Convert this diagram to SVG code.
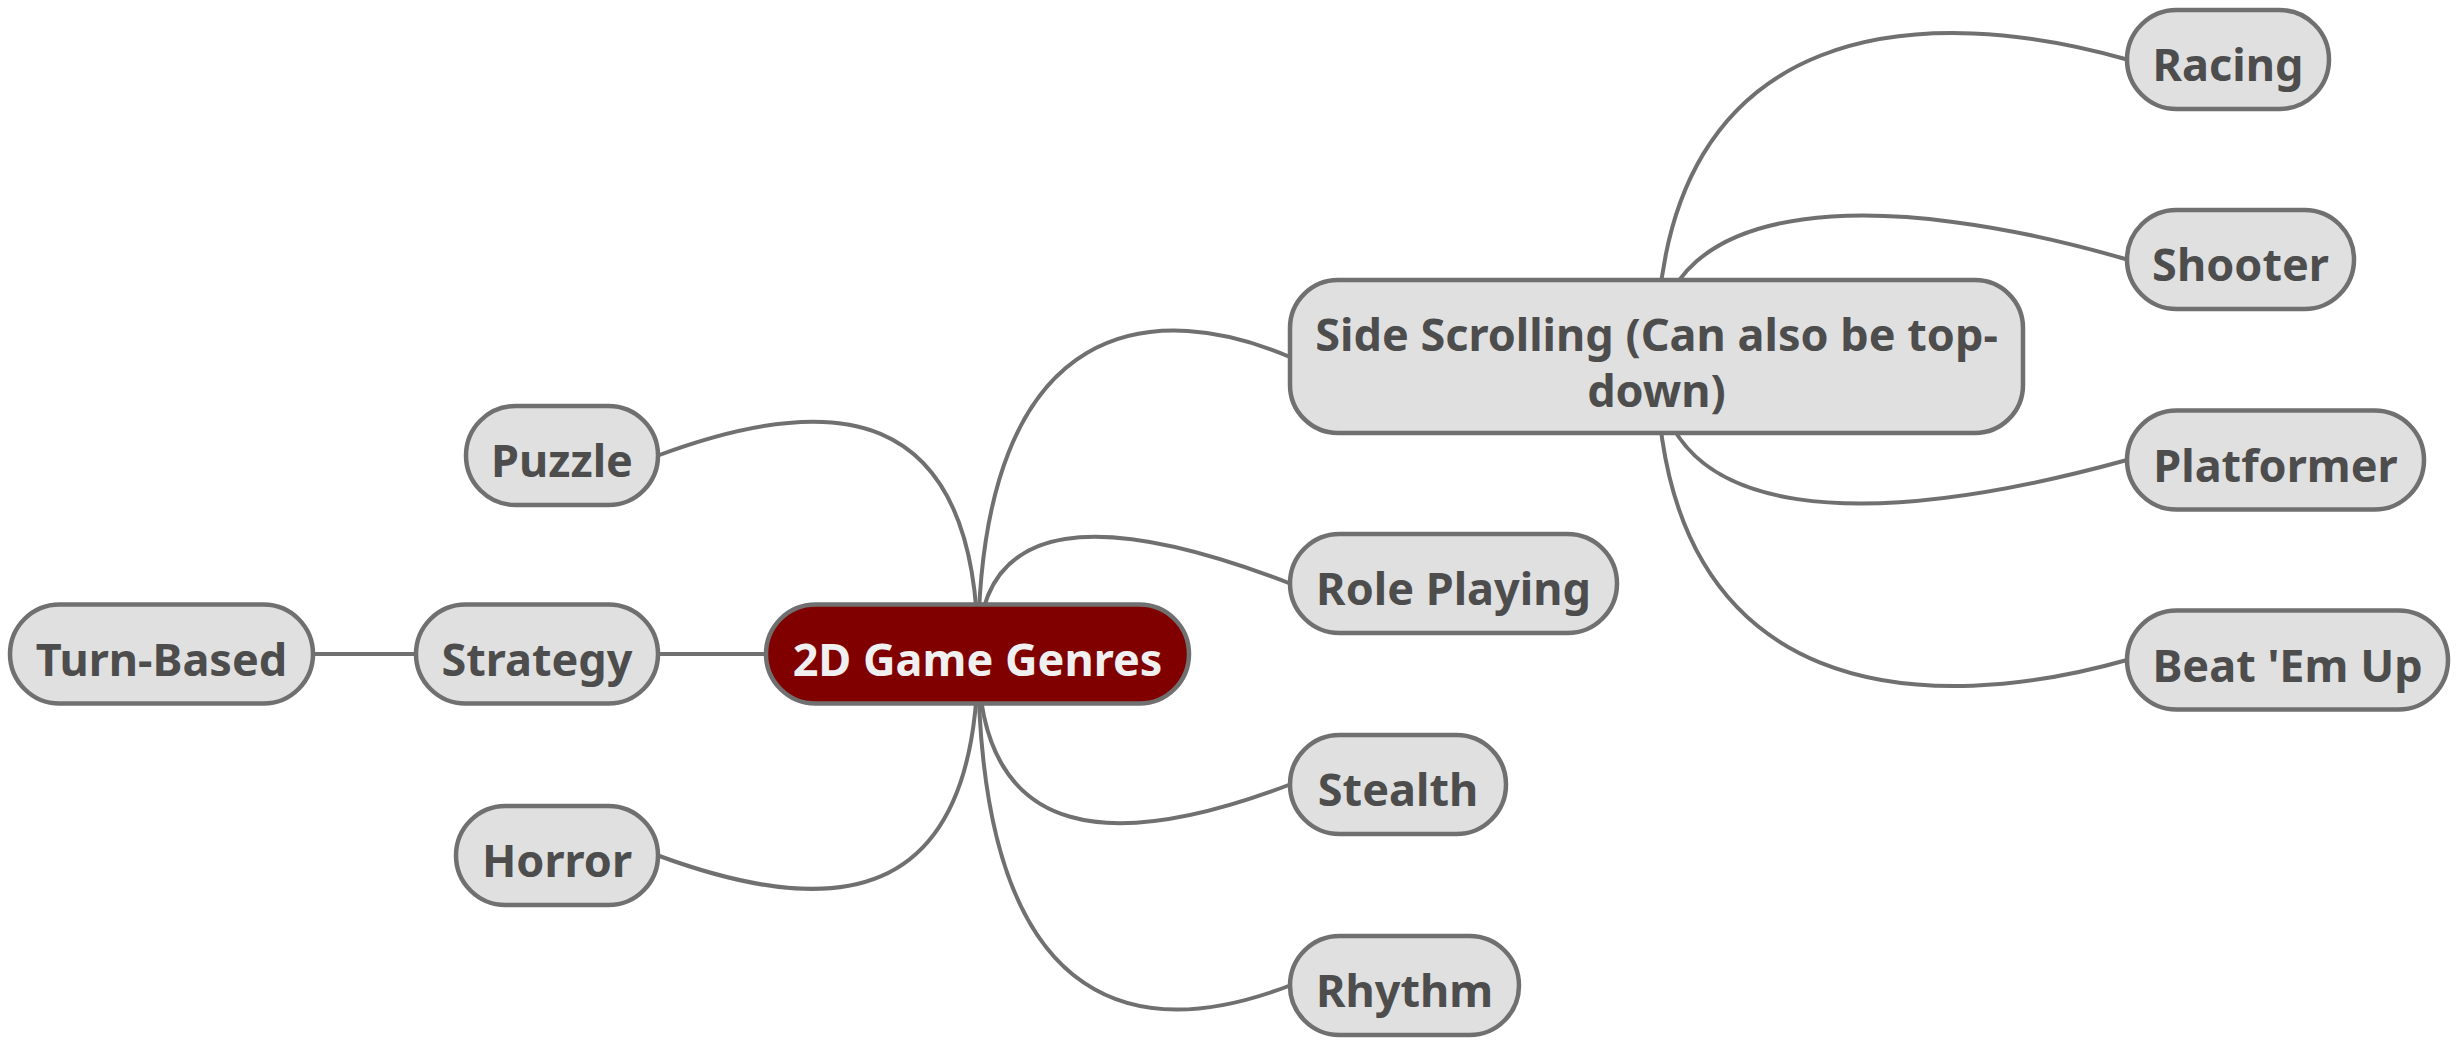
<svg xmlns="http://www.w3.org/2000/svg" width="2460" height="1045" viewBox="0 0 2460 1045">
<style>
.edge{fill:none;stroke:#707070;stroke-width:4}
.node rect{fill:#e0e0e0;stroke:#707070;stroke-width:4.5}
.node text{font-family:"Noto Sans","Open Sans","DejaVu Sans",sans-serif;font-weight:bold;font-size:45px;fill:#4d4d4d;text-anchor:middle}
#root rect{fill:#800000}
#root text{fill:#f0f0f0}
</style>
<rect width="2460" height="1045" fill="#ffffff"/>
<g id="connectors">
<path class="edge" d="M161 654 L537 654"/>
<path class="edge" d="M537 654 L978 654"/>
<path class="edge" d="M978 654 C978 393.5 824.7 393.5 658 455.5"/>
<path class="edge" d="M978 654 C978 917 825 917 658 855.5"/>
<path class="edge" d="M978 654 C978 302.5 1163 302.5 1290 357"/>
<path class="edge" d="M978 654 C978 512.5 1106 512.5 1290 583.5"/>
<path class="edge" d="M978 654 C978 849.3 1120 849.3 1290 784.5"/>
<path class="edge" d="M978 654 C978 1037 1156 1037 1290 985.5"/>
<path class="edge" d="M1656.5 356.5 C1656.5 5 1936 5 2127 59.5"/>
<path class="edge" d="M1656.5 356.5 C1656.5 190 1889 190 2127 259.5"/>
<path class="edge" d="M1656.5 356.5 C1656.5 529.4 1875 529.4 2127 460"/>
<path class="edge" d="M1656.5 356.5 C1656.5 714 1936 714 2127 660"/>
</g>
<g id="turn-based" class="node"><rect x="10" y="604.5" width="303" height="99" rx="49.5"/><text x="161.5" y="675.5">Turn-Based</text></g>
<g id="strategy" class="node"><rect x="416" y="604.5" width="242" height="99" rx="49.5"/><text x="537" y="675.5">Strategy</text></g>
<g id="root" class="node"><rect x="766" y="604.5" width="423" height="99" rx="49.5"/><text x="977.5" y="675.5">2D Game Genres</text></g>
<g id="puzzle" class="node"><rect x="466" y="406" width="192" height="99" rx="49.5"/><text x="562" y="477">Puzzle</text></g>
<g id="horror" class="node"><rect x="456" y="806" width="202" height="99" rx="49.5"/><text x="557" y="877">Horror</text></g>
<g id="side-scrolling" class="node"><rect x="1290" y="280" width="733" height="153" rx="48"/><text x="1656.5" y="350.5">Side Scrolling (Can also be top-</text><text x="1656.5" y="407">down)</text></g>
<g id="role-playing" class="node"><rect x="1290" y="534" width="327" height="99" rx="49.5"/><text x="1453.5" y="605">Role Playing</text></g>
<g id="stealth" class="node"><rect x="1290" y="735" width="216" height="99" rx="49.5"/><text x="1398" y="806">Stealth</text></g>
<g id="rhythm" class="node"><rect x="1290" y="936" width="229" height="99" rx="49.5"/><text x="1404.5" y="1007">Rhythm</text></g>
<g id="racing" class="node"><rect x="2127" y="10" width="202" height="99" rx="49.5"/><text x="2228" y="81">Racing</text></g>
<g id="shooter" class="node"><rect x="2127" y="210" width="227" height="99" rx="49.5"/><text x="2240.5" y="281">Shooter</text></g>
<g id="platformer" class="node"><rect x="2127" y="410.5" width="297" height="99" rx="49.5"/><text x="2275.5" y="481.5">Platformer</text></g>
<g id="beat-em-up" class="node"><rect x="2127" y="610.5" width="321" height="99" rx="49.5"/><text x="2287.5" y="681.5">Beat 'Em Up</text></g>
</svg>
